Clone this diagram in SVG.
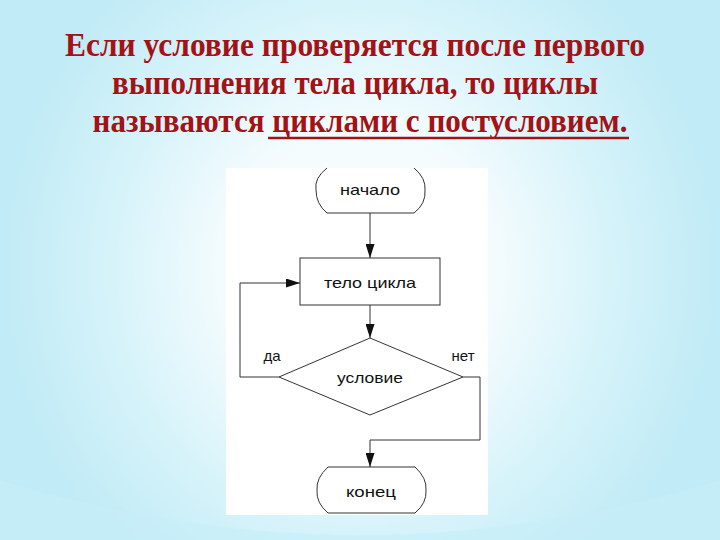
<svg xmlns="http://www.w3.org/2000/svg" width="720" height="540" viewBox="0 0 720 540">
<defs>
<radialGradient id="bg" cx="360" cy="270" r="420" gradientUnits="userSpaceOnUse" gradientTransform="translate(360,270) scale(0.85,0.9) translate(-360,-270)">
<stop offset="0" stop-color="#ffffff"/>
<stop offset="0.4" stop-color="#f2fbfd"/>
<stop offset="0.7" stop-color="#d6f3fa"/>
<stop offset="1" stop-color="#c1ebf6"/>
</radialGradient>
<marker id="ah" viewBox="0 0 10 10" refX="10" refY="5" markerWidth="14" markerHeight="9" markerUnits="userSpaceOnUse" orient="auto" preserveAspectRatio="none">
<path d="M0,0 L10,5 L0,10 Z" fill="#111"/>
</marker>
<style>
.t{font-family:"Liberation Serif","Times New Roman",serif;font-weight:bold;font-size:34px;fill:#a31215;text-anchor:middle}
.f{font-family:"Liberation Sans",Arial,sans-serif;font-size:15px;fill:#111;text-anchor:middle}
.s{fill:#fff;stroke:#333;stroke-width:1}
.c{fill:none;stroke:#333;stroke-width:1}
</style>
</defs>
<rect width="720" height="540" fill="url(#bg)"/>
<path d="M0,480 Q360,590 720,480 L720,540 L0,540 Z" fill="#c6eef8" opacity="0.6"/>
<g id="title">
<text class="t" x="355" y="56" textLength="580" lengthAdjust="spacingAndGlyphs">Если условие проверяется после первого</text>
<text class="t" x="355" y="94" textLength="486" lengthAdjust="spacingAndGlyphs">выполнения тела цикла, то циклы</text>
<text class="t" x="360" y="132" textLength="535" lengthAdjust="spacingAndGlyphs">называются циклами с постусловием.</text>
<line x1="268" y1="138" x2="629" y2="138" stroke="#a31215" stroke-width="2.5"/>
</g>
<rect id="panel" x="226" y="168" width="262" height="347" fill="#ffffff"/>
<g id="start">
<path class="s" d="M327,168 Q314,178 316,190 Q316,204 327,213 L414,213 Q426,204 425,190 Q426,178 414,168"/>
<text class="f" x="370" y="195" textLength="60" lengthAdjust="spacingAndGlyphs">начало</text>
</g>
<g id="body">
<rect class="s" x="300" y="258" width="140" height="47"/>
<text class="f" x="370" y="288" textLength="92" lengthAdjust="spacingAndGlyphs">тело цикла</text>
</g>
<g id="cond">
<polygon class="s" points="370,338 463,377 370,415 279,377"/>
<text class="f" x="370" y="383" textLength="66" lengthAdjust="spacingAndGlyphs">условие</text>
</g>
<g id="end">
<path class="s" d="M328,467 Q316,478 317,490 Q316,503 328,513 L415,513 Q427,503 426,490 Q427,478 415,467 Z"/>
<text class="f" x="371" y="497" textLength="50" lengthAdjust="spacingAndGlyphs">конец</text>
</g>
<g id="connectors">
<line class="c" x1="370" y1="213" x2="370" y2="258" marker-end="url(#ah)"/>
<line class="c" x1="370" y1="305" x2="370" y2="338" marker-end="url(#ah)"/>
<polyline class="c" points="279,377 240,377 240,283 300,283" marker-end="url(#ah)"/>
<polyline class="c" points="463,377 480,377 480,440 370,440 370,467" marker-end="url(#ah)"/>
<text class="f" x="272" y="361">да</text>
<text class="f" x="463" y="361">нет</text>
</g>
</svg>
